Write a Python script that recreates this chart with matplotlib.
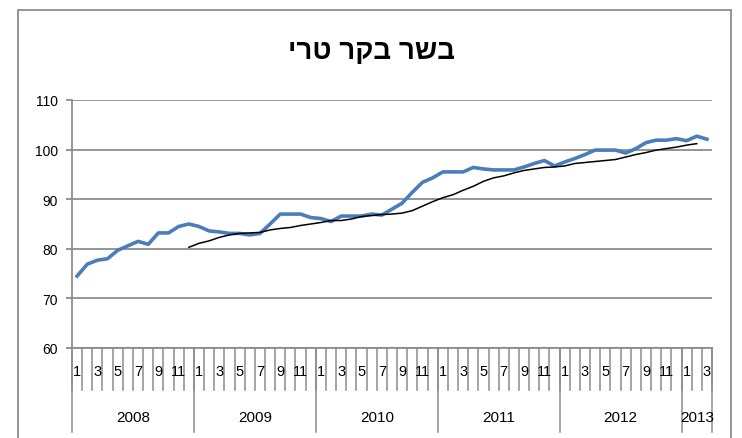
import matplotlib
matplotlib.use("Agg")
import matplotlib.pyplot as plt
from matplotlib.patches import Rectangle
import matplotlib.transforms as mtransforms

plt.rcParams['font.family'] = ['Liberation Sans', 'DejaVu Sans']

# data (monthly, Jan 2008 .. Mar 2013)
years = ['2008', '2009', '2010', '2011', '2012', '2013']
months_per_year = [12, 12, 12, 12, 12, 3]

beef = [74.5, 76.9, 77.7, 78.0, 79.7, 80.6, 81.5, 80.9, 83.2, 83.2, 84.5, 85.0,
        84.5, 83.6, 83.4, 83.1, 83.1, 82.8, 83.1, 85.0, 87.0, 87.0, 87.0, 86.3,
        86.1, 85.5, 86.6, 86.6, 86.6, 87.0, 86.8, 88.0, 89.2, 91.4, 93.4, 94.3,
        95.5, 95.5, 95.5, 96.4, 96.1, 95.9, 95.9, 95.9, 96.5, 97.2, 97.8, 96.7,
        97.5, 98.2, 99.0, 99.9, 99.9, 99.9, 99.3, 100.2, 101.4, 101.9, 101.9, 102.2,
        101.8, 102.7, 102.1]

# trend line starts in Dec 2008
trend = [80.3, 81.1, 81.6, 82.3, 82.8, 83.1, 83.2, 83.3, 83.8, 84.1, 84.3, 84.7,
         85.0, 85.3, 85.7, 85.7, 86.0, 86.5, 86.7, 86.9, 87.0, 87.2, 87.7, 88.6,
         89.5, 90.3, 90.9, 91.8, 92.6, 93.6, 94.3, 94.7, 95.3, 95.8, 96.1, 96.4,
         96.5, 96.7, 97.2, 97.4, 97.6, 97.8, 98.0, 98.5, 99.0, 99.4, 99.9, 100.2,
         100.5, 100.9, 101.2]
trend_start = 11

title = "בשר בקר טרי"

n = len(beef)
W, H = 742, 439
fig = plt.figure(figsize=(W / 100, H / 100), dpi=100)
ax = fig.add_axes([72 / W, 1 - 349 / H, 640 / W, 248 / H])

# chart border
fig.patches.append(Rectangle((18 / W, -0.1), (731 - 18) / W, 0.1 + 1 - 11 / H,
                             transform=fig.transFigure, fill=False,
                             edgecolor='#8c8c8c', lw=1.3))

xs = [i + 0.5 for i in range(n)]
ax.plot(xs, beef, color='#4a7ebb', lw=2.6, solid_joinstyle='round', zorder=3)
ax.plot(xs[trend_start:trend_start + len(trend)], trend, color='black', lw=1.1, zorder=4)

ax.set_xlim(0, n)
ax.set_ylim(60, 110)
ax.set_yticks(range(60, 111, 10))
ax.yaxis.grid(True, color='#8c8c8c', lw=1.3)
ax.set_axisbelow(True)
for s in ['top', 'right', 'bottom']:
    ax.spines[s].set_visible(False)
ax.spines['left'].set_color('#8c8c8c')
ax.spines['left'].set_linewidth(1.3)
ax.tick_params(axis='y', length=4, width=1.3, color='#8c8c8c', labelsize=10, pad=6)
ax.set_xticks([])

# multi-level category axis
tr = mtransforms.blended_transform_factory(ax.transData, ax.transAxes)
ax.plot([0, n], [0, 0], transform=tr, color='#8c8c8c', lw=1.3, clip_on=False)
for i in range(n + 1):
    ax.plot([i, i], [0, -0.17], transform=tr, color='#8c8c8c', lw=1.1, clip_on=False)
pos = 0
bounds = [0]
for y, m in zip(years, months_per_year):
    for k in range(m):
        if k % 2 == 0:
            ax.text(pos + k + 0.5, -0.093, str(k + 1), transform=tr, ha='center',
                    va='center', fontsize=10.5)
    ax.text(pos + m / 2, -0.278, y, transform=tr, ha='center', va='center', fontsize=11)
    pos += m
    bounds.append(pos)
for b in bounds:
    ax.plot([b, b], [0, -0.34], transform=tr, color='#8c8c8c', lw=1.1, clip_on=False)

# matplotlib has no bidi, so reverse the Hebrew for visual order
fig.text(372 / W, 1 - 52 / H, title[::-1], ha='center', va='center',
         fontsize=20, fontweight='bold')

fig.savefig('out.png', dpi=100)
